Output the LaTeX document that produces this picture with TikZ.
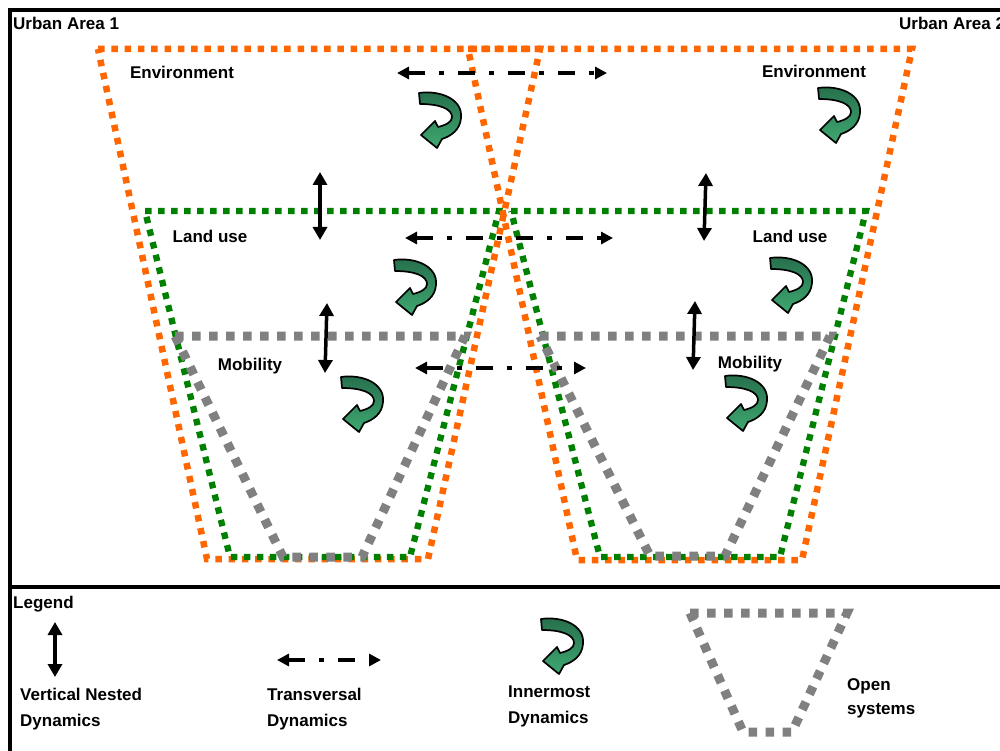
\documentclass[tikz,border=0pt]{standalone}
\usepackage{fontspec}
\setmainfont{Liberation Sans}
\usetikzlibrary{arrows.meta}

\definecolor{envorange}{RGB}{255,102,0}
\definecolor{landgreen}{RGB}{0,128,0}
\definecolor{mobgray}{RGB}{128,128,128}
\definecolor{turndark}{RGB}{38,110,76}
\definecolor{turnlight}{RGB}{62,168,112}

\tikzset{
  frame/.style={line width=4pt, black},
  envline/.style={envorange, line width=6.5pt, dash pattern=on 6.5pt off 6.8pt},
  landline/.style={landgreen, line width=6.3pt, dash pattern=on 6.5pt off 6.5pt},
  mobline/.style={mobgray, line width=9pt, dash pattern=on 8.5pt off 8.5pt},
  nested/.style={line width=3.5pt, {Triangle[width=14pt,length=13pt]}-{Triangle[width=14pt,length=13pt]}},
  transversal/.style={line width=4pt, dash pattern=on 17pt off 14pt on 5pt off 14pt,
    {Triangle[width=12pt,length=12pt]}-{Triangle[width=12pt,length=12pt]}},
  lbl/.style={font=\fontsize{17}{20}\selectfont\bfseries, inner sep=0pt},
  pics/turnarrow/.style={code={
    \draw[line width=1.7pt, line join=round, top color=turndark, bottom color=turnlight]
      (9,8) .. controls (30,5) and (53,14) .. (51,33)
      .. controls (50,45) and (41,51) .. (32,54)
      -- (27,63) -- (11,50) -- (25,36) -- (28,42)
      .. controls (36,40) and (42,37) .. (42,32)
      .. controls (42,24) and (30,19) .. (10,19) -- cycle;
  }}
}

\begin{document}
\begin{tikzpicture}[x=1pt, y=-1pt]
\useasboundingbox[fill=white] (0,0) rectangle (1000,751);

% outer frame and legend separator
\draw[frame] (1010,10) -- (10,10) -- (10,760);
\draw[frame] (10,587) -- (1010,587);

% nested open systems of urban area 1
\draw[envline]  (98,49) -- (540,49) -- (428,559) -- (207,559) -- cycle;
\draw[landline] (145,211) -- (499,211) -- (410,557) -- (230,557) -- cycle;
\draw[mobline]  (175,336) -- (465,336) -- (362,557) -- (283,557) -- cycle;

% nested open systems of urban area 2
\draw[envline]  (468,49) -- (912,49) -- (802,560) -- (577,560) -- cycle;
\draw[landline] (511,211) -- (866,211) -- (780,557) -- (600,557) -- cycle;
\draw[mobline]  (540,336) -- (830,336) -- (725,556) -- (650,556) -- cycle;

% titles
\node[lbl, anchor=base west] (ua1) at (13,30) {Urban Area 1};
\node[lbl, anchor=base west] (ua2) at (899,30) {Urban Area 2};

% layer labels
\node[lbl, anchor=base] (env1)  at (182,79)  {Environment};
\node[lbl, anchor=base] (env2)  at (814,78)  {Environment};
\node[lbl, anchor=base] (land1) at (210,242) {Land use};
\node[lbl, anchor=base] (land2) at (790,242) {Land use};
\node[lbl, anchor=base] (mob1)  at (250,370) {Mobility};
\node[lbl, anchor=base] (mob2)  at (750,368) {Mobility};

% vertical nested dynamics
\coordinate (v1a) at (320,172); \coordinate (v1b) at (320,240);
\coordinate (v2a) at (327,303); \coordinate (v2b) at (325,373);
\coordinate (v3a) at (706,173); \coordinate (v3b) at (704,241);
\coordinate (v4a) at (695,301); \coordinate (v4b) at (693,370);
\draw[nested] (v1a) -- (v1b);
\draw[nested] (v2a) -- (v2b);
\draw[nested] (v3a) -- (v3b);
\draw[nested] (v4a) -- (v4b);

% transversal dynamics between the two areas
\coordinate (t1a) at (397,73);  \coordinate (t1b) at (607,73);
\coordinate (t2a) at (405,238); \coordinate (t2b) at (613,238);
\coordinate (t3a) at (415,368); \coordinate (t3b) at (586,368);
\draw[transversal] (t1a) -- (t1b);
\draw[transversal] (t2a) -- (t2b);
\draw[transversal] (t3a) -- (t3b);

% innermost dynamics
\pic at (410,85)  {turnarrow};
\pic at (809,80)  {turnarrow};
\pic at (385,252) {turnarrow};
\pic at (761,250) {turnarrow};
\pic at (332,369) {turnarrow};
\pic at (716,368) {turnarrow};

% legend
\node[lbl, anchor=base west] (leg) at (13,608) {Legend};

\coordinate (lva) at (55,622); \coordinate (lvb) at (55,677);
\draw[nested] (lva) -- (lvb);
\node[lbl, anchor=base west] (lv1) at (20,700) {Vertical Nested};
\node[lbl, anchor=base west] (lv2) at (20,726) {Dynamics};

\coordinate (lta) at (277,660); \coordinate (ltb) at (381,660);
\draw[transversal] (lta) -- (ltb);
\node[lbl, anchor=base west] (lt1) at (267,700) {Transversal};
\node[lbl, anchor=base west] (lt2) at (267,726) {Dynamics};

\pic at (532,611) {turnarrow};
\node[lbl, anchor=base west] (li1) at (508,697) {Innermost};
\node[lbl, anchor=base west] (li2) at (508,723) {Dynamics};

\draw[mobline] (690,613) -- (847,613) -- (792,732) -- (743,732) -- cycle;
\node[lbl, anchor=base west] (lo1) at (847,690) {Open};
\node[lbl, anchor=base west] (lo2) at (847,714) {systems};
\end{tikzpicture}
\end{document}
